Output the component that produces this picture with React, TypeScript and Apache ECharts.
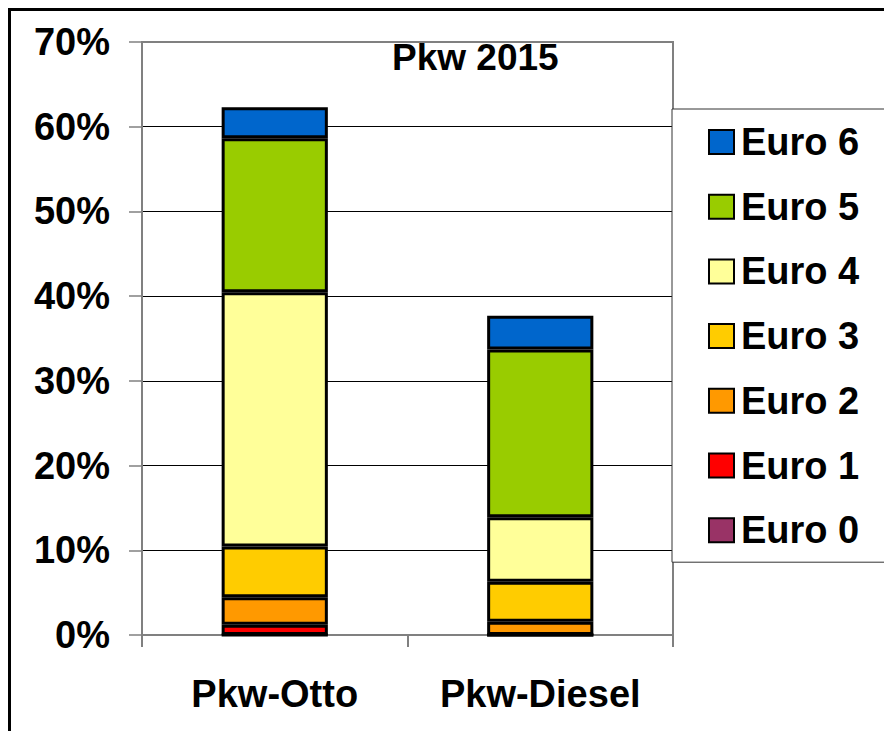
import React, { useEffect, useRef } from "react";
import * as echarts from "echarts";

const categories = ["Pkw-Otto", "Pkw-Diesel"];
const seriesNames = ["Euro 0", "Euro 1", "Euro 2", "Euro 3", "Euro 4", "Euro 5", "Euro 6"];
const euro0 = [0, 0];
const euro1 = [1.2, 0];
const euro2 = [3.25, 1.55];
const euro3 = [6.0, 4.75];
const euro4 = [30.0, 7.6];
const euro5 = [18.2, 19.8];
const euro6 = [3.65, 4.0];
const seriesValues = [euro0, euro1, euro2, euro3, euro4, euro5, euro6];
const seriesColors = ["#993366", "#FF0000", "#FF9900", "#FFCC00", "#FFFF99", "#99CC00", "#0066CC"];
const yTicks = [0, 10, 20, 30, 40, 50, 60, 70];
const title = "Pkw 2015";

const FONT = "'Liberation Sans', Arial, sans-serif";

export default function App() {
  const ref = useRef<HTMLDivElement>(null);
  useEffect(() => {
    if (!ref.current) return;
    const chart = echarts.init(ref.current, undefined, { renderer: "svg" });
    const option: any = {
      animation: false,
      backgroundColor: "#ffffff",
      title: {
        text: title,
        left: 392,
        top: 39,
        padding: 0,
        textStyle: { fontFamily: FONT, fontWeight: "bold", fontSize: 37, color: "#000" },
      },
      grid: {
        left: 142,
        top: 42,
        right: 211,
        bottom: 96,
        show: true,
        borderColor: "#808080",
        borderWidth: 2,
        backgroundColor: "transparent",
      },
      legend: {
        orient: "vertical",
        left: 672,
        top: 109,
        data: seriesNames.slice().reverse(),
        backgroundColor: "#ffffff",
        borderColor: "#333333",
        borderWidth: 1,
        borderRadius: 0,
        padding: [14, 60, 13, 36],
        itemWidth: 25,
        itemHeight: 24,
        itemGap: 26.7,
        icon: "rect",
        itemStyle: { borderColor: "#000", borderWidth: 2 },
        textStyle: { fontFamily: FONT, fontWeight: "bold", fontSize: 38, color: "#000", padding: [0, 0, 0, 2] },
        selectedMode: false,
        z: 10,
      },
      xAxis: {
        type: "category",
        data: categories,
        axisLine: { show: true, lineStyle: { color: "#808080", width: 2 } },
        axisTick: { show: true, length: 12, alignWithLabel: false, lineStyle: { color: "#808080", width: 2 } },
        axisLabel: { fontFamily: FONT, fontWeight: "bold", fontSize: 38, color: "#000", margin: 40 },
        splitLine: { show: false },
      },
      yAxis: {
        type: "value",
        min: 0,
        max: 70,
        interval: 10,
        axisLine: { show: true, lineStyle: { color: "#808080", width: 2 } },
        axisTick: { show: true, length: 13, lineStyle: { color: "#808080", width: 1.5 } },
        axisLabel: {
          fontFamily: FONT,
          fontWeight: "bold",
          fontSize: 38,
          color: "#000",
          margin: 32,
          formatter: (v: number) => (yTicks.includes(v) ? v + "%" : ""),
        },
        splitLine: {
          show: true,
          lineStyle: { color: ["#808080", "#000", "#000", "#000", "#000", "#000", "#000", "#808080"], width: 1 },
        },
      },
      series: seriesNames.map((name, i) => ({
        name,
        type: "bar",
        stack: "total",
        barWidth: "40%",
        data: seriesValues[i],
        itemStyle: { color: seriesColors[i], borderColor: "#000", borderWidth: 3 },
      })),
      graphic: [
        {
          type: "rect",
          shape: { x: 9.5, y: 9.5, width: 1000, height: 1000 },
          style: { fill: "none", stroke: "#000", lineWidth: 3 },
          z: 100,
          silent: true,
        },
      ],
    };
    chart.setOption(option);
    return () => chart.dispose();
  }, []);
  return (
    <div
      ref={ref}
      style={{ position: "fixed", left: 0, top: 0, width: 884, height: 731 }}
    />
  );
}
